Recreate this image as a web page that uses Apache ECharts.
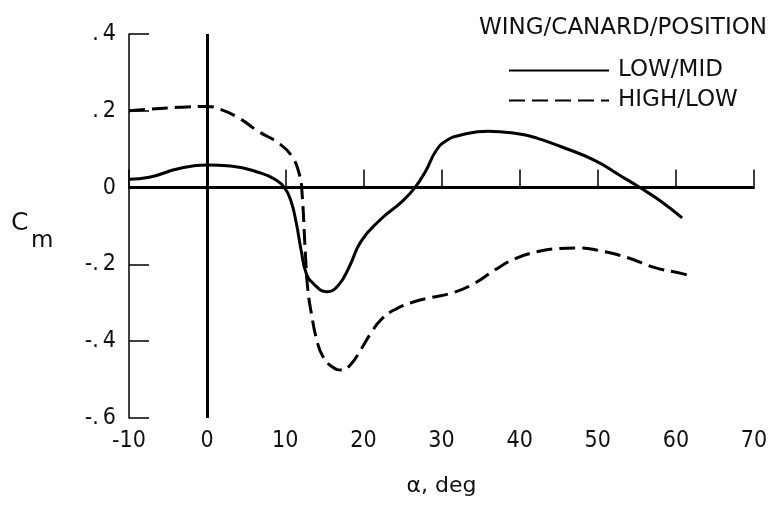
<!DOCTYPE html>
<html>
<head>
<meta charset="utf-8">
<script src="https://cdn.jsdelivr.net/npm/echarts@6/dist/echarts.min.js"></script>
<style>
html,body{margin:0;padding:0;background:#fff;}
#chart{width:782px;height:506px;}
</style>
</head>
<body>
<div id="chart"></div>
<script>
// Data
var lowMid = [
  [-10, 0.022], [-7.4, 0.027], [-3.7, 0.049], [0, 0.059], [3, 0.056], [7, 0.037],
  [8.8, 0.02], [9.9, 0], [10.7, -0.033], [11.4, -0.091], [12.05, -0.165], [12.7, -0.224],
  [13.6, -0.25], [15.3, -0.271], [16.8, -0.254], [18.2, -0.206], [19.7, -0.14],
  [22.2, -0.083], [24.9, -0.037], [26.6, 0], [28, 0.044], [29.3, 0.096], [30.6, 0.122],
  [32.5, 0.137], [36, 0.147], [39.8, 0.14], [42.2, 0.129], [45.25, 0.107], [49.6, 0.071],
  [52.9, 0.031], [55.4, 0], [57.9, -0.033], [60.8, -0.079]
];
var highLow = [
  [-10, 0.2], [-3.7, 0.209], [0, 0.211], [1.4, 0.206], [4, 0.182], [6.5, 0.147],
  [9.2, 0.115], [10.9, 0.08], [11.8, 0.035], [12.1, 0], [12.6, -0.18], [12.9, -0.267],
  [13.4, -0.334], [14.0, -0.394], [14.8, -0.439], [16.1, -0.468], [17.2, -0.475],
  [18.4, -0.46], [19.7, -0.421], [21.0, -0.378], [22.3, -0.343], [24.1, -0.317],
  [26.7, -0.296], [28.5, -0.287], [31.4, -0.274], [33.9, -0.253], [36.8, -0.215],
  [39.3, -0.186], [42.2, -0.167], [44.8, -0.159], [47.4, -0.157], [50.4, -0.165],
  [53.75, -0.182], [57.1, -0.207], [60.8, -0.224], [61.9, -0.231]
];
var seriesNames = ['LOW/MID', 'HIGH/LOW'];
var legendTitle = 'WING/CANARD/POSITION';
var xTicks = [-10, 0, 10, 20, 30, 40, 50, 60, 70];
var yTicks = [-0.6, -0.4, -0.2, 0, 0.2, 0.4];

var NUMFONT = '"DejaVu Sans Condensed", "DejaVu Sans", sans-serif';
var TXTFONT = '"DejaVu Sans", sans-serif';
var chart = echarts.init(document.getElementById('chart'), null, {renderer: 'canvas'});

function yFmt(v) {
  var r = Math.round(v * 10);
  if (r === 0) return '0';
  return (r < 0 ? '-' : '') + '.\u2009' + Math.abs(r);
}

chart.setOption({
  backgroundColor: '#fff',
  animation: false,
  title: {
    text: legendTitle,
    right: 10, top: 12,
    textStyle: {fontFamily: TXTFONT, fontSize: 23, fontWeight: 'normal', color: '#111'}
  },
  legend: {
    data: seriesNames,
    orient: 'vertical',
    left: 503, top: 54,
    itemWidth: 100, itemHeight: 14, itemGap: 7,
    itemStyle: {opacity: 0},
    textStyle: {fontFamily: TXTFONT, fontSize: 23, color: '#111', padding: [0, 0, 0, 4]}
  },
  grid: {left: 129, right: 28, top: 34, bottom: 88, containLabel: false},
  xAxis: {
    type: 'value',
    min: xTicks[0], max: xTicks[xTicks.length - 1], interval: 10,
    name: 'α, deg', nameLocation: 'middle', nameGap: 57,
    nameTextStyle: {fontFamily: TXTFONT, fontSize: 22, color: '#111'},
    axisLine: {show: true, lineStyle: {color: '#000', width: 2}},
    axisTick: {show: true, inside: true, length: 18, lineStyle: {color: '#000', width: 1.5}},
    axisLabel: {fontFamily: NUMFONT, fontSize: 23, color: '#111', margin: 12},
    splitLine: {show: false}
  },
  yAxis: {
    type: 'value',
    min: yTicks[0], max: yTicks[yTicks.length - 1], interval: 0.2,
    axisLine: {show: true, onZero: false, lineStyle: {color: '#000', width: 1.5}},
    axisTick: {show: true, inside: true, length: 20, lineStyle: {color: '#000', width: 1.5}},
    axisLabel: {fontFamily: NUMFONT, fontSize: 23, color: '#111', margin: 13, formatter: yFmt},
    splitLine: {show: false}
  },
  graphic: [
    {type: 'text', left: 11, top: 211, style: {text: 'C', font: '25px ' + TXTFONT, fill: '#111'}},
    {type: 'text', left: 31, top: 230, style: {text: 'm', font: '23px ' + TXTFONT, fill: '#111'}}
  ],
  series: [
    {
      name: seriesNames[0], type: 'line', data: lowMid,
      showSymbol: false, symbol: 'none', smooth: 0.5,
      lineStyle: {color: '#000', width: 3, type: 'solid'},
      itemStyle: {color: '#000'},
      markLine: {
        silent: true, symbol: 'none', label: {show: false},
        lineStyle: {color: '#000', width: 3, type: 'solid'},
        data: [{yAxis: 0}, {xAxis: 0}]
      }
    },
    {
      name: seriesNames[1], type: 'line', data: highLow,
      showSymbol: false, symbol: 'none', smooth: 0.5,
      lineStyle: {color: '#000', width: 3, type: [16, 7]},
      itemStyle: {color: '#000'}
    }
  ]
});
</script>
</body>
</html>
